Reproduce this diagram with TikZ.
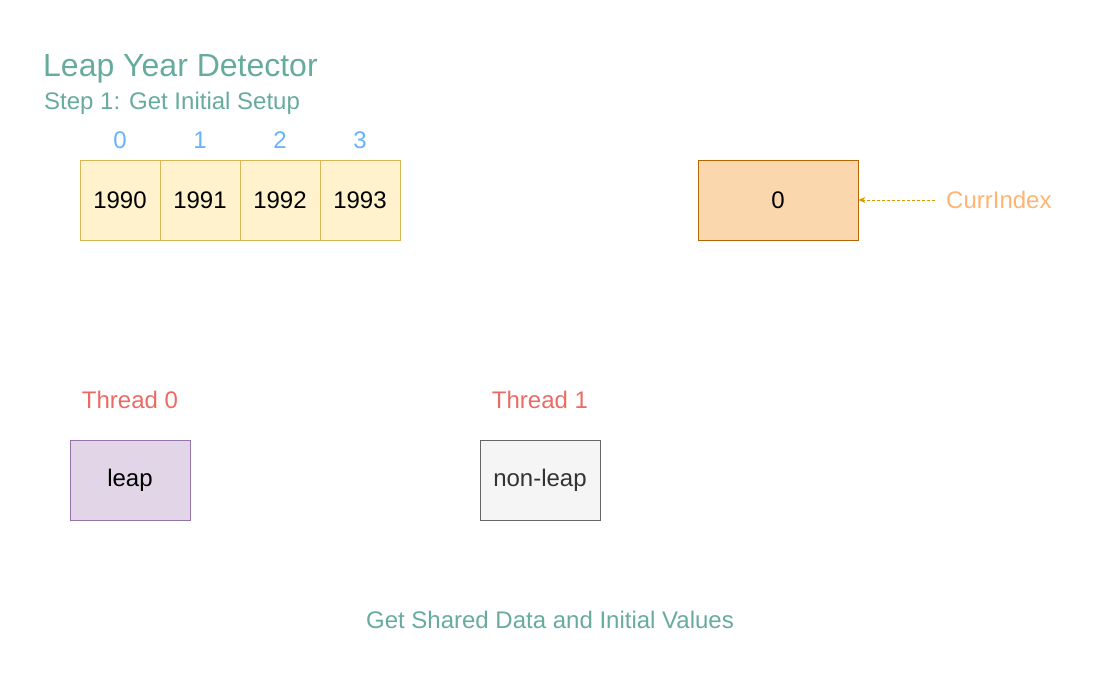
\documentclass[tikz,border=0pt]{standalone}
\usepackage{fontspec}
\setmainfont{Liberation Sans}
\usetikzlibrary{arrows.meta}
\definecolor{ttl}{HTML}{67AB9F}
\definecolor{idx}{HTML}{66B2FF}
\definecolor{arrF}{HTML}{FFF2CC}
\definecolor{arrD}{HTML}{D6B656}
\definecolor{curF}{HTML}{FAD7AC}
\definecolor{curD}{HTML}{B46504}
\definecolor{arw}{HTML}{D79B00}
\definecolor{curT}{HTML}{FFB570}
\definecolor{thr}{HTML}{EA6B66}
\definecolor{lpF}{HTML}{E1D5E7}
\definecolor{lpD}{HTML}{9673A6}
\definecolor{nlF}{HTML}{F5F5F5}
\definecolor{nlD}{HTML}{666666}
\definecolor{nlT}{HTML}{333333}
\tikzset{
  txt/.style={font=\fontsize{24}{28}\selectfont, inner sep=0pt},
  cellbox/.style={txt, draw=arrD, fill=arrF, minimum width=80pt, minimum height=80pt, line width=0.8pt},
  idxlabel/.style={txt, text=idx},
  thrlabel/.style={txt, text=thr},
  valbox/.style={txt, minimum width=120pt, minimum height=80pt, line width=0.8pt},
}
\begin{document}
\begin{tikzpicture}[x=1pt,y=-1pt]
\useasboundingbox (0,0) rectangle (1100,700);
\node[anchor=west, text=ttl, font=\fontsize{32}{38}\selectfont, inner sep=0pt] (title) at (43,69) {Leap Year Detector};
\node[anchor=west, text=ttl, txt] (step) at (44,103) {Step 1: Get Initial Setup};
\foreach \i/\y in {0/1990,1/1991,2/1992,3/1993}{
  \node[cellbox] (c\i) at (120+80*\i,200) {\y};
  \node[idxlabel] (i\i) at (120+80*\i,140) {\i};
}
\node[valbox, draw=curD, fill=curF, minimum width=160pt] (cur) at (778,200) {0};
\node[anchor=west, text=curT, txt] (curlbl) at (946,200) {CurrIndex};
\coordinate (curstart) at (935,200);
\draw[arw, dash pattern=on 3pt off 2pt, line width=0.8pt, -{Stealth[length=7pt,width=6pt]}] (curstart) -- (cur.east);
\node[thrlabel] (t0) at (130,400) {Thread 0};
\node[thrlabel] (t1) at (540,400) {Thread 1};
\node[valbox, draw=lpD, fill=lpF] (leap) at (130,480) {leap};
\node[valbox, draw=nlD, fill=nlF, text=nlT] (nonleap) at (540,480) {non-leap};
\node[text=ttl, txt] (caption) at (550,620) {Get Shared Data and Initial Values};
\end{tikzpicture}
\end{document}
